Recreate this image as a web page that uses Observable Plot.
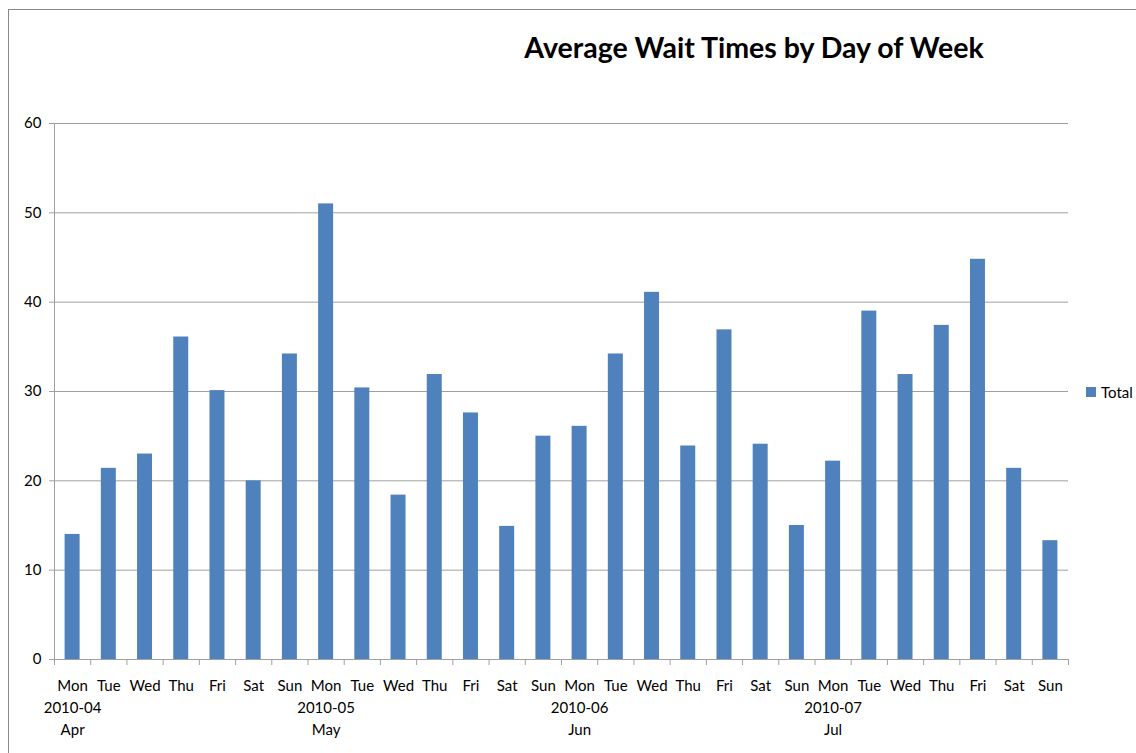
<!DOCTYPE html>
<html>
<head>
<meta charset="utf-8">
<script src="https://cdn.jsdelivr.net/npm/d3@7"></script>
<script src="https://cdn.jsdelivr.net/npm/@observablehq/plot@0.6"></script>
<style>
  html, body { margin: 0; padding: 0; background: #fff; overflow: hidden; }
  #wrap { position: relative; width: 1136px; height: 753px; font-family: Lato, "Open Sans", sans-serif; }
  #frame { position: absolute; left: 8px; top: 9px; width: 1300px; height: 900px; border: 1px solid #888; box-sizing: border-box; }
  #title { position: absolute; left: 754px; top: 47px; transform: translate(-50%, -50%); font-weight: bold; font-size: 28.5px; white-space: nowrap; color: #000; }
  #legend { position: absolute; left: 1086px; top: 392px; transform: translateY(-50%); display: flex; align-items: center; font-size: 15px; color: #000; }
  #legend .sw { width: 10px; height: 10px; background: #4f81bd; margin-right: 5px; }
  #chart { position: absolute; left: 0; top: 0; }
</style>
</head>
<body>
<div id="wrap">
  <div id="frame"></div>
  <div id="chart"></div>
  <div id="title">Average Wait Times by Day of Week</div>
  <div id="legend"><span class="sw"></span><span>Total</span></div>
</div>
<script>
// Average wait time per weekday, four monthly groups
const days = ["Mon", "Tue", "Wed", "Thu", "Fri", "Sat", "Sun"];
const months = ["2010-04", "2010-05", "2010-06", "2010-07"];
const monthNames = ["Apr", "May", "Jun", "Jul"];
const apr = [14.0, 21.4, 23.0, 36.1, 30.1, 20.0, 34.2];
const may = [51.0, 30.4, 18.4, 31.9, 27.6, 14.9, 25.0];
const jun = [26.1, 34.2, 41.1, 23.9, 36.9, 24.1, 15.0];
const jul = [22.2, 39.0, 31.9, 37.4, 44.8, 21.4, 13.3];
const yTicks = [0, 10, 20, 30, 40, 50, 60];

const series = [apr, may, jun, jul];
const rows = [];
series.forEach((vals, g) => {
  vals.forEach((v, k) => rows.push({i: g * 7 + k, day: days[k], month: months[g], value: v}));
});
const groups = months.map((m, g) => ({start: g * 7, code: m, name: monthNames[g]}));
const n = rows.length;

const axisColor = "#a0a0a0";
const barColor = "#4f81bd";
const half = 0.207; // half bar width, in category units

const chart = Plot.plot({
  width: 1136,
  height: 753,
  marginLeft: 54,
  marginRight: 68,
  marginTop: 123,
  marginBottom: 94,
  style: {fontFamily: "Lato, 'Open Sans', sans-serif", fontSize: "15px", color: "#000", background: "transparent", overflow: "visible"},
  x: {type: "linear", domain: [0, n], axis: null},
  y: {domain: [0, 60], axis: null},
  marks: [
    Plot.gridY(yTicks, {stroke: axisColor, strokeOpacity: 1}),
    Plot.axisY(yTicks, {tickSize: 5, tickPadding: 8, stroke: axisColor, fill: "#000", fontSize: 15, label: null}),
    Plot.ruleX([0], {stroke: axisColor}),
    Plot.rectY(rows, {x1: d => d.i + 0.5 - half, x2: d => d.i + 0.5 + half, y: "value", fill: barColor}),
    Plot.ruleY([0], {stroke: axisColor}),
    Plot.axisX(d3.range(0, n + 1), {tickSize: 6, tickFormat: () => "", stroke: axisColor, label: null}),
    Plot.text(rows, {x: d => d.i + 0.5, y: 0, text: "day", dy: 27, lineAnchor: "middle", fontSize: 15, fill: "#000"}),
    Plot.text(groups, {x: d => d.start + 0.5, y: 0, text: "code", dy: 49, lineAnchor: "middle", fontSize: 15, fill: "#000"}),
    Plot.text(groups, {x: d => d.start + 0.5, y: 0, text: "name", dy: 71, lineAnchor: "middle", fontSize: 15, fill: "#000"})
  ]
});
document.getElementById("chart").appendChild(chart);
</script>
</body>
</html>
